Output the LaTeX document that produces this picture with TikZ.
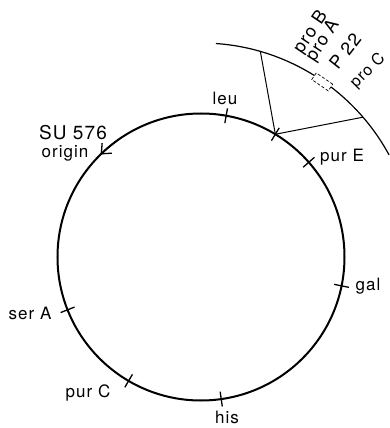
\documentclass[tikz,border=0pt]{standalone}
\usepackage{fontspec}
\setsansfont{TeX Gyre Heros}[LetterSpace=6]
\usetikzlibrary{arrows.meta}

\begin{document}
\begin{tikzpicture}[
  x=1pt, y=1pt,
  ring/.style={line width=2pt},
  outring/.style={line width=1.2pt},
  genetick/.style={line width=1.3pt},
  link/.style={line width=1pt},
  lab/.style={font=\sffamily\fontsize{17}{19}\selectfont, inner sep=1pt},
  rlab/.style={font=\sffamily\fontsize{18}{20}\selectfont, inner sep=1pt, rotate=#1},
  rlab/.default=55,
]
  \useasboundingbox (-201,-171) rectangle (188,257);

  % Chromosome and outer segment
  \draw[ring] (0,0) circle (143.5);
  \draw[outring] (86:214) arc[start angle=86, end angle=28.5, radius=214];

  % Gene ticks
  \foreach \a in {79.9,58.8,41.3,-11.6,-81.9,-120.3,201.6}
    \draw[genetick] (\a:136) -- (\a:151);

  % Origin arrow
  \draw[genetick, -{Straight Barb[length=8pt, width=14pt]}]
    (126:143.5) arc[start angle=126, end angle=134.4, radius=143.5];

  % Junction and connectors
  \coordinate (junc) at (58.8:143.5);
  \coordinate (outB) at (73.9:214);
  \coordinate (outC) at (40.8:214);
  \draw[link] (junc) -- (outB);
  \draw[link] (junc) -- (outC);

  % P22 box
  \node[draw, densely dashed, line width=0.7pt, fill=white, rotate=-34.6,
        minimum width=20pt, minimum height=8pt, inner sep=0pt] (pbox) at (55.3:213) {};

  % Labels
  \node[lab] (leu) at (24,159) {leu};
  \node[lab] (purE) at (141,100) {pur E};
  \node[lab] (gal) at (167,-29) {gal};
  \node[lab] (his) at (26,-160) {his};
  \node[lab] (purC) at (-113,-136) {pur C};
  \node[lab] (serA) at (-171,-56) {ser A};
  \node[lab, font=\sffamily\fontsize{19}{21}\selectfont] (su) at (-128,124) {SU 576};
  \node[lab] (orig) at (-136,104) {origin};

  \node[rlab=56] (proB) at (110,224.5) {pro B};
  \node[rlab=57] (proA) at (122,216) {pro A};
  \node[rlab=52] (p22) at (144,206) {P 22};
  \node[rlab=45, font=\sffamily\fontsize{16}{18}\selectfont] (proC) at (167,186) {pro C};
\end{tikzpicture}
\end{document}
